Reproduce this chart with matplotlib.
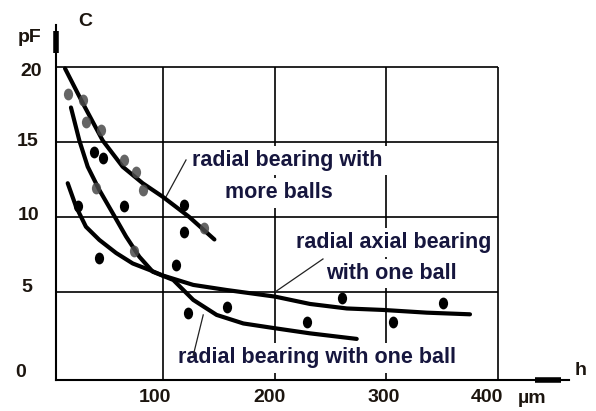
import matplotlib
matplotlib.use("Agg")
import matplotlib.pyplot as plt
from matplotlib.markers import MarkerStyle
from matplotlib.transforms import Affine2D

# ---------------- data ----------------
more_balls_x = [12.3, 28.1, 46.0, 63.9, 81.8, 99.7, 123.5, 146.0]
more_balls_y = [19.9, 17.6, 15.1, 13.35, 12.25, 11.35, 10.0, 8.5]

one_ball_x = [17.6, 25.1, 32.6, 43.0, 55.0, 66.9, 78.8, 90.8, 109.2, 127.1, 148.0, 171.9, 200.3, 231.6, 273.4]
one_ball_y = [17.3, 15.1, 13.35, 11.8, 10.25, 8.7, 7.35, 6.35, 5.8, 4.47, 3.47, 2.9, 2.58, 2.24, 1.87]

axial_x = [14.7, 22.1, 31.0, 43.0, 58.0, 72.9, 87.8, 99.7, 127.1, 157.0, 200.3, 231.6, 264.5, 297.3, 336.0, 374.8]
axial_y = [12.25, 10.7, 9.35, 8.47, 7.6, 6.9, 6.47, 6.1, 5.47, 5.13, 4.69, 4.2, 3.9, 3.8, 3.62, 3.51]

dots_x = [38.5, 46.0, 65.4, 119.0, 119.0, 43.0, 111.6, 122.7, 157.0, 260.0, 228.6, 306.2, 351.0, 23.6]
dots_y = [14.35, 13.9, 10.7, 10.8, 9.0, 7.25, 6.8, 3.58, 4.02, 4.58, 3.02, 3.02, 4.24, 10.7]

faint_x = [14.7, 28.1, 31.0, 44.5, 65.4, 75.8, 81.8, 40.0, 74.3, 137.0]
faint_y = [18.2, 17.8, 16.35, 15.8, 13.8, 13.0, 11.8, 11.9, 7.7, 9.25]

x_ticks = [100, 200, 300, 400]
x_tick_labels = ["100", "200", "300", "400"]
y_ticks = [20, 15, 10, 5, 0]
y_tick_labels = ["20", "15", "10", "5", "0"]
grid_x = [100, 200, 300, 400]
grid_y = [5, 10, 15, 20]

# ---------------- style / layout ----------------
XMIN, XMAX = 4.3, 480
YMIN, YMAX = -0.87, 23.3
TXT = "#16163e"
NUM = "#1c150f"
FONT = "Liberation Sans"

fig = plt.figure(figsize=(5.96, 4.11), dpi=100)
ax = fig.add_axes([56.1 / 596, 31 / 411, 531.4 / 596, 362.5 / 411])
ax.set_xlim(XMIN, XMAX)
ax.set_ylim(YMIN, YMAX)
ax.axis("off")

# grid
for gx in grid_x:
    ax.plot([gx, gx], [YMIN, 20], color="black", lw=1.2, zorder=1, solid_capstyle="butt")
for gy in grid_y:
    ax.plot([XMIN, 400], [gy, gy], color="black", lw=1.2, zorder=1, solid_capstyle="butt")

# axes with arrows
ax.plot([XMIN, XMIN], [YMIN, 22.8], color="black", lw=1.5, zorder=2, clip_on=False)
ax.plot([XMIN, XMIN], [20.9, 22.4], color="black", lw=4.0, zorder=2, clip_on=False,
        solid_capstyle="butt")
ax.plot([XMIN, 463], [YMIN, YMIN], color="black", lw=1.5, zorder=2, clip_on=False)
ax.plot([433, 456], [YMIN, YMIN], color="black", lw=4.0, zorder=2, clip_on=False,
        solid_capstyle="butt")

# curves
for cx, cy in [(more_balls_x, more_balls_y), (one_ball_x, one_ball_y), (axial_x, axial_y)]:
    ax.plot(cx, cy, color="black", lw=3.0, zorder=5, solid_capstyle="round",
            solid_joinstyle="round")

# dots
ell = MarkerStyle("o", transform=Affine2D().scale(0.78, 1.0))
ax.plot(faint_x, faint_y, ls="none", marker=ell, ms=8.5, color="#4a4a4a",
        markeredgewidth=0, alpha=0.85, zorder=6)
ax.plot(dots_x, dots_y, ls="none", marker=ell, ms=8.5, color="black",
        markeredgewidth=0, zorder=7)

# annotation texts
box = dict(facecolor="white", edgecolor="none", pad=3)
tkw = dict(fontsize=15.5, fontweight="bold", color=TXT, family=FONT,
           ha="center", va="center", zorder=3, bbox=box)
ax.text(211.6, 13.75, "radial bearing with", **tkw)
ax.text(204.0, 11.6, "more balls", **tkw)
ax.text(306.8, 8.3, "radial axial bearing", **tkw)
ax.text(304.8, 6.25, "with one ball", **tkw)
ax.text(237.6, 0.6, "radial bearing with one ball", **tkw)

# leader lines
lkw = dict(color="#222222", lw=0.9, zorder=4)
ax.plot([120.6, 102.7], [13.8, 11.35], **lkw)
ax.plot([243.2, 200.3], [7.2, 5.0], **lkw)
ax.plot([136.0, 127.0], [3.47, 0.75], **lkw)

# tick labels
nkw = dict(fontsize=14, fontweight="bold", color=NUM, family=FONT,
           ha="center", va="center", textcoords="offset pixels",
           annotation_clip=False)
x_dx = [-8, -5, -3, -11]
for v, lbl, dx in zip(x_ticks, x_tick_labels, x_dx):
    ax.annotate(lbl, xy=(v, YMIN), xytext=(dx, -17), **nkw)
y_off = [(-25, -5), (-28, 0), (-28, 1), (-29, 4), (-35, -6)]
for v, lbl, (dx, dy) in zip(y_ticks, y_tick_labels, y_off):
    ax.annotate(lbl, xy=(XMIN, v), xytext=(dx, dy), **nkw)

# axis names / units
ax.annotate("pF", xy=(XMIN, YMIN), xytext=(-27, 343), **nkw)
ax.annotate("C", xy=(XMIN, YMIN), xytext=(29, 359), **nkw)
ax.annotate("h", xy=(XMIN, YMIN), xytext=(525, 10), **nkw)
ax.annotate("µm", xy=(XMIN, YMIN), xytext=(476, -18), **nkw)

fig.savefig("out.png", dpi=100, facecolor="white")
